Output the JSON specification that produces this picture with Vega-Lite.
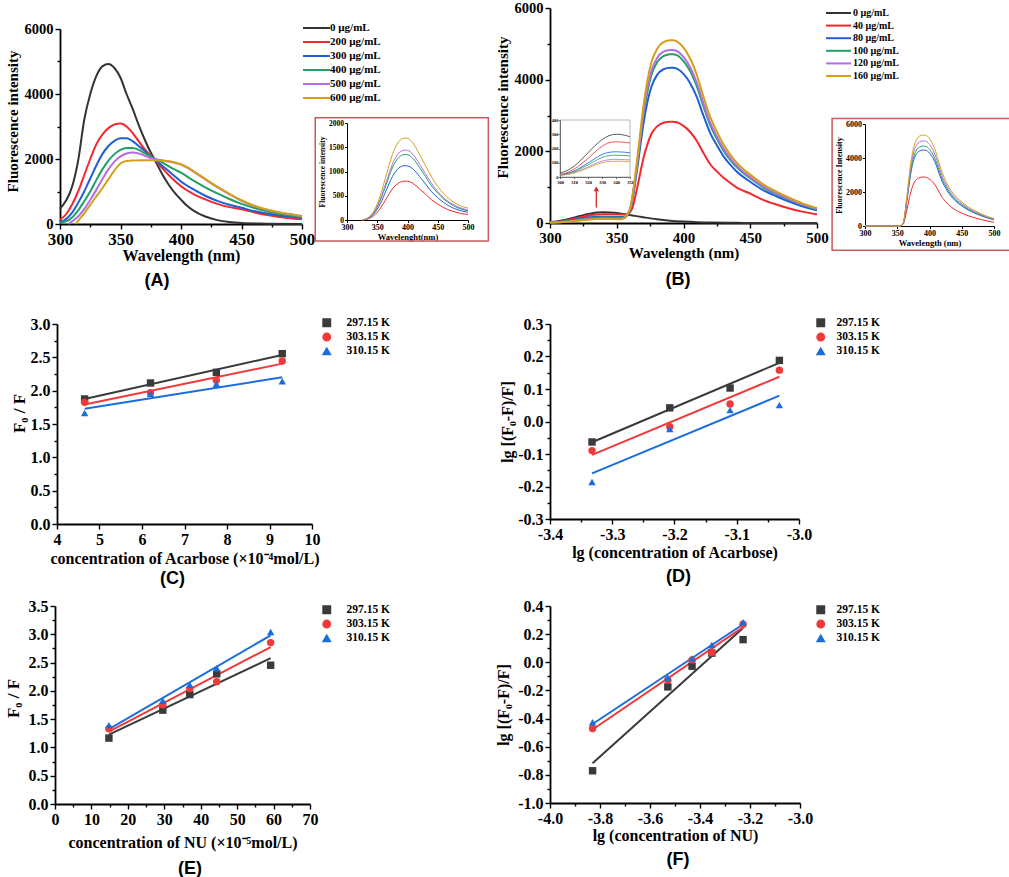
{
"$schema":"https://vega.github.io/schema/vega-lite/v6.json",
"padding":{"left":4,"top":0,"right":0,"bottom":0},
"config":{
 "view":{"stroke":null},
 "font":"Liberation Serif",
 "axis":{"domainColor":"#000","domainWidth":1.8,"tickColor":"#000","tickWidth":1.4,"tickSize":5,"labelColor":"#000","labelFont":"Liberation Serif","labelFontWeight":"bold","labelFontSize":16,"labelPadding":2,"labelFlush":false,"labelOverlap":false,"labelBound":false,"titleColor":"#000","titleFont":"Liberation Serif","titleFontWeight":"bold","titleFontSize":16,"grid":false},
 "legend":{"labelFont":"Liberation Serif","labelFontWeight":"bold","labelColor":"#000","padding":0},
 "title":{"font":"Liberation Sans","fontWeight":"bold","fontSize":18,"color":"#000"}
},
"datasets":{
"specA":[
{"w":300,"n":0,"i":470},{"w":305,"n":0,"i":720},{"w":310,"n":0,"i":1150},{"w":315,"n":0,"i":1950},{"w":320,"n":0,"i":3200},{"w":325,"n":0,"i":4000},{"w":330,"n":0,"i":4550},{"w":335,"n":0,"i":4850},{"w":340,"n":0,"i":4920},{"w":345,"n":0,"i":4800},{"w":350,"n":0,"i":4500},{"w":355,"n":0,"i":4000},{"w":360,"n":0,"i":3550},{"w":365,"n":0,"i":3050},{"w":370,"n":0,"i":2600},{"w":375,"n":0,"i":2200},{"w":378,"n":0,"i":2000},{"w":380,"n":0,"i":1850},{"w":385,"n":0,"i":1500},{"w":390,"n":0,"i":1200},{"w":395,"n":0,"i":950},{"w":400,"n":0,"i":750},{"w":405,"n":0,"i":560},{"w":410,"n":0,"i":420},{"w":420,"n":0,"i":230},{"w":430,"n":0,"i":120},{"w":440,"n":0,"i":60},{"w":450,"n":0,"i":30},{"w":470,"n":0,"i":10},{"w":500,"n":0,"i":0},
{"w":300,"n":200,"i":130},{"w":305,"n":200,"i":300},{"w":310,"n":200,"i":600},{"w":315,"n":200,"i":1000},{"w":320,"n":200,"i":1500},{"w":325,"n":200,"i":2000},{"w":330,"n":200,"i":2450},{"w":335,"n":200,"i":2750},{"w":340,"n":200,"i":2950},{"w":345,"n":200,"i":3060},{"w":350,"n":200,"i":3090},{"w":355,"n":200,"i":3000},{"w":360,"n":200,"i":2800},{"w":365,"n":200,"i":2550},{"w":370,"n":200,"i":2300},{"w":375,"n":200,"i":2100},{"w":380,"n":200,"i":1900},{"w":385,"n":200,"i":1700},{"w":390,"n":200,"i":1500},{"w":395,"n":200,"i":1320},{"w":400,"n":200,"i":1160},{"w":410,"n":200,"i":930},{"w":420,"n":200,"i":760},{"w":430,"n":200,"i":620},{"w":440,"n":200,"i":520},{"w":450,"n":200,"i":450},{"w":460,"n":200,"i":360},{"w":470,"n":200,"i":285},{"w":480,"n":200,"i":225},{"w":490,"n":200,"i":180},{"w":500,"n":200,"i":145},
{"w":300,"n":300,"i":60},{"w":305,"n":300,"i":150},{"w":310,"n":300,"i":350},{"w":315,"n":300,"i":650},{"w":320,"n":300,"i":1000},{"w":325,"n":300,"i":1400},{"w":330,"n":300,"i":1800},{"w":335,"n":300,"i":2150},{"w":340,"n":300,"i":2400},{"w":345,"n":300,"i":2560},{"w":350,"n":300,"i":2640},{"w":355,"n":300,"i":2640},{"w":360,"n":300,"i":2550},{"w":365,"n":300,"i":2400},{"w":370,"n":300,"i":2250},{"w":375,"n":300,"i":2080},{"w":380,"n":300,"i":1930},{"w":385,"n":300,"i":1780},{"w":390,"n":300,"i":1620},{"w":395,"n":300,"i":1460},{"w":400,"n":300,"i":1310},{"w":410,"n":300,"i":1070},{"w":420,"n":300,"i":870},{"w":430,"n":300,"i":710},{"w":440,"n":300,"i":590},{"w":450,"n":300,"i":500},{"w":460,"n":300,"i":400},{"w":470,"n":300,"i":330},{"w":480,"n":300,"i":270},{"w":490,"n":300,"i":225},{"w":500,"n":300,"i":190},
{"w":300,"n":400,"i":40},{"w":305,"n":400,"i":80},{"w":310,"n":400,"i":200},{"w":315,"n":400,"i":420},{"w":320,"n":400,"i":700},{"w":325,"n":400,"i":1000},{"w":330,"n":400,"i":1350},{"w":335,"n":400,"i":1680},{"w":340,"n":400,"i":1950},{"w":345,"n":400,"i":2150},{"w":350,"n":400,"i":2280},{"w":355,"n":400,"i":2340},{"w":360,"n":400,"i":2340},{"w":365,"n":400,"i":2280},{"w":370,"n":400,"i":2180},{"w":375,"n":400,"i":2080},{"w":380,"n":400,"i":1980},{"w":385,"n":400,"i":1880},{"w":390,"n":400,"i":1770},{"w":395,"n":400,"i":1670},{"w":400,"n":400,"i":1580},{"w":410,"n":400,"i":1340},{"w":420,"n":400,"i":1130},{"w":430,"n":400,"i":940},{"w":440,"n":400,"i":770},{"w":450,"n":400,"i":620},{"w":460,"n":400,"i":500},{"w":470,"n":400,"i":400},{"w":480,"n":400,"i":320},{"w":490,"n":400,"i":260},{"w":500,"n":400,"i":215},
{"w":307,"n":500,"i":0},{"w":310,"n":500,"i":80},{"w":315,"n":500,"i":230},{"w":320,"n":500,"i":460},{"w":325,"n":500,"i":740},{"w":330,"n":500,"i":1050},{"w":335,"n":500,"i":1380},{"w":340,"n":500,"i":1680},{"w":345,"n":500,"i":1920},{"w":350,"n":500,"i":2080},{"w":355,"n":500,"i":2170},{"w":360,"n":500,"i":2200},{"w":365,"n":500,"i":2170},{"w":370,"n":500,"i":2100},{"w":375,"n":500,"i":2030},{"w":380,"n":500,"i":1985},{"w":385,"n":500,"i":1955},{"w":390,"n":500,"i":1920},{"w":395,"n":500,"i":1880},{"w":400,"n":500,"i":1825},{"w":405,"n":500,"i":1735},{"w":410,"n":500,"i":1620},{"w":420,"n":500,"i":1375},{"w":430,"n":500,"i":1135},{"w":440,"n":500,"i":915},{"w":450,"n":500,"i":715},{"w":460,"n":500,"i":560},{"w":470,"n":500,"i":445},{"w":480,"n":500,"i":362},{"w":490,"n":500,"i":298},{"w":500,"n":500,"i":240},
{"w":313,"n":600,"i":0},{"w":315,"n":600,"i":100},{"w":320,"n":600,"i":330},{"w":325,"n":600,"i":590},{"w":330,"n":600,"i":850},{"w":335,"n":600,"i":1100},{"w":340,"n":600,"i":1380},{"w":345,"n":600,"i":1650},{"w":350,"n":600,"i":1860},{"w":355,"n":600,"i":1940},{"w":360,"n":600,"i":1955},{"w":370,"n":600,"i":1960},{"w":380,"n":600,"i":1960},{"w":385,"n":600,"i":1945},{"w":390,"n":600,"i":1930},{"w":395,"n":600,"i":1895},{"w":400,"n":600,"i":1840},{"w":405,"n":600,"i":1750},{"w":410,"n":600,"i":1635},{"w":420,"n":600,"i":1390},{"w":430,"n":600,"i":1150},{"w":440,"n":600,"i":930},{"w":450,"n":600,"i":730},{"w":460,"n":600,"i":570},{"w":470,"n":600,"i":455},{"w":480,"n":600,"i":370},{"w":490,"n":600,"i":305},{"w":500,"n":600,"i":246}
],
"insetA":[
{"w":325,"n":200,"i":0},{"w":335,"n":200,"i":25},{"w":345,"n":200,"i":95},{"w":355,"n":200,"i":240},{"w":365,"n":200,"i":440},{"w":375,"n":200,"i":640},{"w":385,"n":200,"i":760},{"w":395,"n":200,"i":800},{"w":400,"n":200,"i":800},{"w":410,"n":200,"i":745},{"w":420,"n":200,"i":640},{"w":430,"n":200,"i":530},{"w":440,"n":200,"i":415},{"w":450,"n":200,"i":330},{"w":460,"n":200,"i":255},{"w":470,"n":200,"i":200},{"w":480,"n":200,"i":160},{"w":490,"n":200,"i":130},{"w":500,"n":200,"i":115},
{"w":325,"n":300,"i":0},{"w":335,"n":300,"i":35},{"w":345,"n":300,"i":135},{"w":355,"n":300,"i":335},{"w":365,"n":300,"i":615},{"w":375,"n":300,"i":895},{"w":385,"n":300,"i":1065},{"w":395,"n":300,"i":1120},{"w":400,"n":300,"i":1115},{"w":410,"n":300,"i":1040},{"w":420,"n":300,"i":895},{"w":430,"n":300,"i":740},{"w":440,"n":300,"i":580},{"w":450,"n":300,"i":460},{"w":460,"n":300,"i":360},{"w":470,"n":300,"i":280},{"w":480,"n":300,"i":225},{"w":490,"n":300,"i":185},{"w":500,"n":300,"i":160},
{"w":325,"n":400,"i":0},{"w":335,"n":400,"i":40},{"w":345,"n":400,"i":160},{"w":355,"n":400,"i":405},{"w":365,"n":400,"i":740},{"w":375,"n":400,"i":1080},{"w":385,"n":400,"i":1280},{"w":395,"n":400,"i":1350},{"w":400,"n":400,"i":1345},{"w":410,"n":400,"i":1255},{"w":420,"n":400,"i":1080},{"w":430,"n":400,"i":890},{"w":440,"n":400,"i":700},{"w":450,"n":400,"i":555},{"w":460,"n":400,"i":430},{"w":470,"n":400,"i":340},{"w":480,"n":400,"i":270},{"w":490,"n":400,"i":220},{"w":500,"n":400,"i":190},
{"w":325,"n":500,"i":0},{"w":335,"n":500,"i":45},{"w":345,"n":500,"i":175},{"w":355,"n":500,"i":430},{"w":365,"n":500,"i":790},{"w":375,"n":500,"i":1150},{"w":385,"n":500,"i":1370},{"w":395,"n":500,"i":1440},{"w":400,"n":500,"i":1435},{"w":410,"n":500,"i":1340},{"w":420,"n":500,"i":1150},{"w":430,"n":500,"i":950},{"w":440,"n":500,"i":750},{"w":450,"n":500,"i":590},{"w":460,"n":500,"i":460},{"w":470,"n":500,"i":360},{"w":480,"n":500,"i":290},{"w":490,"n":500,"i":240},{"w":500,"n":500,"i":205},
{"w":325,"n":600,"i":0},{"w":335,"n":600,"i":50},{"w":345,"n":600,"i":200},{"w":355,"n":600,"i":505},{"w":365,"n":600,"i":930},{"w":375,"n":600,"i":1350},{"w":385,"n":600,"i":1605},{"w":395,"n":600,"i":1690},{"w":400,"n":600,"i":1685},{"w":410,"n":600,"i":1570},{"w":420,"n":600,"i":1350},{"w":430,"n":600,"i":1115},{"w":440,"n":600,"i":880},{"w":450,"n":600,"i":690},{"w":460,"n":600,"i":540},{"w":470,"n":600,"i":425},{"w":480,"n":600,"i":340},{"w":490,"n":600,"i":280},{"w":500,"n":600,"i":245}
],
"specB":[
{"w":300,"n":0,"i":28},{"w":305,"n":0,"i":45},{"w":310,"n":0,"i":75},{"w":315,"n":0,"i":120},{"w":320,"n":0,"i":170},{"w":325,"n":0,"i":220},{"w":330,"n":0,"i":262},{"w":335,"n":0,"i":290},{"w":340,"n":0,"i":300},{"w":345,"n":0,"i":296},{"w":350,"n":0,"i":282},{"w":355,"n":0,"i":255},{"w":360,"n":0,"i":220},{"w":370,"n":0,"i":160},{"w":380,"n":0,"i":105},{"w":390,"n":0,"i":65},{"w":400,"n":0,"i":40},{"w":410,"n":0,"i":22},{"w":420,"n":0,"i":12},{"w":440,"n":0,"i":5},{"w":460,"n":0,"i":0},{"w":500,"n":0,"i":0},
{"w":300,"n":40,"i":18},{"w":305,"n":40,"i":30},{"w":310,"n":40,"i":55},{"w":315,"n":40,"i":90},{"w":320,"n":40,"i":130},{"w":325,"n":40,"i":175},{"w":330,"n":40,"i":215},{"w":335,"n":40,"i":240},{"w":340,"n":40,"i":247},{"w":345,"n":40,"i":245},{"w":350,"n":40,"i":238},{"w":353,"n":40,"i":235},{"w":356,"n":40,"i":240},{"w":358,"n":40,"i":250},{"w":360,"n":40,"i":300},{"w":362,"n":40,"i":450},{"w":364,"n":40,"i":760},{"w":366,"n":40,"i":1100},{"w":368,"n":40,"i":1470},{"w":370,"n":40,"i":1810},{"w":373,"n":40,"i":2200},{"w":376,"n":40,"i":2490},{"w":380,"n":40,"i":2690},{"w":385,"n":40,"i":2800},{"w":390,"n":40,"i":2827},{"w":392,"n":40,"i":2827},{"w":395,"n":40,"i":2810},{"w":400,"n":40,"i":2710},{"w":405,"n":40,"i":2540},{"w":410,"n":40,"i":2290},{"w":415,"n":40,"i":1950},{"w":420,"n":40,"i":1640},{"w":425,"n":40,"i":1440},{"w":430,"n":40,"i":1260},{"w":435,"n":40,"i":1120},{"w":440,"n":40,"i":990},{"w":445,"n":40,"i":900},{"w":450,"n":40,"i":820},{"w":460,"n":40,"i":640},{"w":470,"n":40,"i":510},{"w":480,"n":40,"i":400},{"w":490,"n":40,"i":310},{"w":500,"n":40,"i":240},
{"w":300,"n":80,"i":15},{"w":305,"n":80,"i":25},{"w":310,"n":80,"i":42},{"w":315,"n":80,"i":68},{"w":320,"n":80,"i":98},{"w":325,"n":80,"i":130},{"w":330,"n":80,"i":158},{"w":335,"n":80,"i":173},{"w":340,"n":80,"i":177},{"w":345,"n":80,"i":175},{"w":350,"n":80,"i":170},{"w":353,"n":80,"i":168},{"w":356,"n":80,"i":175},{"w":358,"n":80,"i":220},{"w":360,"n":80,"i":350},{"w":362,"n":80,"i":690},{"w":364,"n":80,"i":1170},{"w":366,"n":80,"i":1690},{"w":368,"n":80,"i":2250},{"w":370,"n":80,"i":2770},{"w":373,"n":80,"i":3380},{"w":376,"n":80,"i":3810},{"w":380,"n":80,"i":4120},{"w":385,"n":80,"i":4290},{"w":390,"n":80,"i":4334},{"w":392,"n":80,"i":4334},{"w":395,"n":80,"i":4310},{"w":400,"n":80,"i":4160},{"w":405,"n":80,"i":3900},{"w":410,"n":80,"i":3510},{"w":415,"n":80,"i":2990},{"w":420,"n":80,"i":2510},{"w":425,"n":80,"i":2170},{"w":430,"n":80,"i":1860},{"w":435,"n":80,"i":1630},{"w":440,"n":80,"i":1430},{"w":445,"n":80,"i":1280},{"w":450,"n":80,"i":1150},{"w":460,"n":80,"i":910},{"w":470,"n":80,"i":740},{"w":480,"n":80,"i":585},{"w":490,"n":80,"i":455},{"w":500,"n":80,"i":355},
{"w":300,"n":100,"i":14},{"w":305,"n":100,"i":22},{"w":310,"n":100,"i":37},{"w":315,"n":100,"i":60},{"w":320,"n":100,"i":85},{"w":325,"n":100,"i":113},{"w":330,"n":100,"i":137},{"w":335,"n":100,"i":150},{"w":340,"n":100,"i":153},{"w":345,"n":100,"i":151},{"w":350,"n":100,"i":148},{"w":353,"n":100,"i":146},{"w":356,"n":100,"i":150},{"w":358,"n":100,"i":235},{"w":360,"n":100,"i":375},{"w":362,"n":100,"i":750},{"w":364,"n":100,"i":1270},{"w":366,"n":100,"i":1840},{"w":368,"n":100,"i":2450},{"w":370,"n":100,"i":3010},{"w":373,"n":100,"i":3670},{"w":376,"n":100,"i":4140},{"w":380,"n":100,"i":4470},{"w":385,"n":100,"i":4660},{"w":390,"n":100,"i":4708},{"w":392,"n":100,"i":4708},{"w":395,"n":100,"i":4685},{"w":400,"n":100,"i":4520},{"w":405,"n":100,"i":4240},{"w":410,"n":100,"i":3810},{"w":415,"n":100,"i":3250},{"w":420,"n":100,"i":2730},{"w":425,"n":100,"i":2350},{"w":430,"n":100,"i":2020},{"w":435,"n":100,"i":1765},{"w":440,"n":100,"i":1555},{"w":445,"n":100,"i":1390},{"w":450,"n":100,"i":1250},{"w":460,"n":100,"i":990},{"w":470,"n":100,"i":800},{"w":480,"n":100,"i":635},{"w":490,"n":100,"i":495},{"w":500,"n":100,"i":385},
{"w":300,"n":120,"i":12},{"w":305,"n":120,"i":19},{"w":310,"n":120,"i":31},{"w":315,"n":120,"i":49},{"w":320,"n":120,"i":70},{"w":325,"n":120,"i":93},{"w":330,"n":120,"i":111},{"w":335,"n":120,"i":121},{"w":340,"n":120,"i":124},{"w":345,"n":120,"i":122},{"w":350,"n":120,"i":120},{"w":353,"n":120,"i":119},{"w":356,"n":120,"i":145},{"w":358,"n":120,"i":240},{"w":360,"n":120,"i":385},{"w":362,"n":120,"i":770},{"w":364,"n":120,"i":1300},{"w":366,"n":120,"i":1880},{"w":368,"n":120,"i":2510},{"w":370,"n":120,"i":3090},{"w":373,"n":120,"i":3770},{"w":376,"n":120,"i":4250},{"w":380,"n":120,"i":4590},{"w":385,"n":120,"i":4780},{"w":390,"n":120,"i":4828},{"w":392,"n":120,"i":4828},{"w":395,"n":120,"i":4800},{"w":400,"n":120,"i":4635},{"w":405,"n":120,"i":4345},{"w":410,"n":120,"i":3910},{"w":415,"n":120,"i":3330},{"w":420,"n":120,"i":2800},{"w":425,"n":120,"i":2415},{"w":430,"n":120,"i":2075},{"w":435,"n":120,"i":1810},{"w":440,"n":120,"i":1595},{"w":445,"n":120,"i":1425},{"w":450,"n":120,"i":1280},{"w":460,"n":120,"i":1015},{"w":470,"n":120,"i":820},{"w":480,"n":120,"i":650},{"w":490,"n":120,"i":505},{"w":500,"n":120,"i":395},
{"w":300,"n":160,"i":11},{"w":305,"n":160,"i":17},{"w":310,"n":160,"i":28},{"w":315,"n":160,"i":44},{"w":320,"n":160,"i":63},{"w":325,"n":160,"i":84},{"w":330,"n":160,"i":100},{"w":335,"n":160,"i":109},{"w":340,"n":160,"i":111},{"w":345,"n":160,"i":110},{"w":350,"n":160,"i":108},{"w":353,"n":160,"i":107},{"w":356,"n":160,"i":155},{"w":358,"n":160,"i":255},{"w":360,"n":160,"i":410},{"w":362,"n":160,"i":815},{"w":364,"n":160,"i":1375},{"w":366,"n":160,"i":1990},{"w":368,"n":160,"i":2650},{"w":370,"n":160,"i":3260},{"w":373,"n":160,"i":3980},{"w":376,"n":160,"i":4490},{"w":380,"n":160,"i":4845},{"w":385,"n":160,"i":5050},{"w":390,"n":160,"i":5099},{"w":392,"n":160,"i":5099},{"w":395,"n":160,"i":5070},{"w":400,"n":160,"i":4895},{"w":405,"n":160,"i":4590},{"w":410,"n":160,"i":4130},{"w":415,"n":160,"i":3520},{"w":420,"n":160,"i":2960},{"w":425,"n":160,"i":2550},{"w":430,"n":160,"i":2190},{"w":435,"n":160,"i":1910},{"w":440,"n":160,"i":1680},{"w":445,"n":160,"i":1500},{"w":450,"n":160,"i":1350},{"w":460,"n":160,"i":1070},{"w":470,"n":160,"i":870},{"w":480,"n":160,"i":690},{"w":490,"n":160,"i":535},{"w":500,"n":160,"i":420}
],
"zoomB":[
{"w":300,"n":0,"i":28},{"w":305,"n":0,"i":45},{"w":310,"n":0,"i":75},{"w":315,"n":0,"i":120},{"w":320,"n":0,"i":170},{"w":325,"n":0,"i":220},{"w":330,"n":0,"i":262},{"w":335,"n":0,"i":290},{"w":340,"n":0,"i":300},{"w":345,"n":0,"i":296},{"w":350,"n":0,"i":282},
{"w":300,"n":40,"i":18},{"w":305,"n":40,"i":30},{"w":310,"n":40,"i":55},{"w":315,"n":40,"i":90},{"w":320,"n":40,"i":130},{"w":325,"n":40,"i":175},{"w":330,"n":40,"i":215},{"w":335,"n":40,"i":240},{"w":340,"n":40,"i":247},{"w":345,"n":40,"i":245},{"w":350,"n":40,"i":238},
{"w":300,"n":80,"i":15},{"w":305,"n":80,"i":25},{"w":310,"n":80,"i":42},{"w":315,"n":80,"i":68},{"w":320,"n":80,"i":98},{"w":325,"n":80,"i":130},{"w":330,"n":80,"i":158},{"w":335,"n":80,"i":173},{"w":340,"n":80,"i":177},{"w":345,"n":80,"i":175},{"w":350,"n":80,"i":170},
{"w":300,"n":100,"i":14},{"w":305,"n":100,"i":22},{"w":310,"n":100,"i":37},{"w":315,"n":100,"i":60},{"w":320,"n":100,"i":85},{"w":325,"n":100,"i":113},{"w":330,"n":100,"i":137},{"w":335,"n":100,"i":150},{"w":340,"n":100,"i":153},{"w":345,"n":100,"i":151},{"w":350,"n":100,"i":148},
{"w":300,"n":120,"i":12},{"w":305,"n":120,"i":19},{"w":310,"n":120,"i":31},{"w":315,"n":120,"i":49},{"w":320,"n":120,"i":70},{"w":325,"n":120,"i":93},{"w":330,"n":120,"i":111},{"w":335,"n":120,"i":121},{"w":340,"n":120,"i":124},{"w":345,"n":120,"i":122},{"w":350,"n":120,"i":120},
{"w":300,"n":160,"i":11},{"w":305,"n":160,"i":17},{"w":310,"n":160,"i":28},{"w":315,"n":160,"i":44},{"w":320,"n":160,"i":63},{"w":325,"n":160,"i":84},{"w":330,"n":160,"i":100},{"w":335,"n":160,"i":109},{"w":340,"n":160,"i":111},{"w":345,"n":160,"i":110},{"w":350,"n":160,"i":108}
],
"insetB":[
{"w":300,"n":40,"i":0},{"w":355,"n":40,"i":0},{"w":358,"n":40,"i":60},{"w":360,"n":40,"i":150},{"w":362,"n":40,"i":420},{"w":364,"n":40,"i":780},{"w":366,"n":40,"i":1120},{"w":368,"n":40,"i":1500},{"w":370,"n":40,"i":1840},{"w":373,"n":40,"i":2250},{"w":376,"n":40,"i":2530},{"w":380,"n":40,"i":2740},{"w":385,"n":40,"i":2850},{"w":390,"n":40,"i":2880},{"w":392,"n":40,"i":2880},{"w":395,"n":40,"i":2860},{"w":400,"n":40,"i":2760},{"w":405,"n":40,"i":2590},{"w":410,"n":40,"i":2330},{"w":415,"n":40,"i":1990},{"w":420,"n":40,"i":1670},{"w":425,"n":40,"i":1440},{"w":430,"n":40,"i":1240},{"w":435,"n":40,"i":1080},{"w":440,"n":40,"i":950},{"w":445,"n":40,"i":850},{"w":450,"n":40,"i":760},{"w":460,"n":40,"i":600},{"w":470,"n":40,"i":480},{"w":480,"n":40,"i":380},{"w":490,"n":40,"i":290},{"w":500,"n":40,"i":220},
{"w":300,"n":80,"i":0},{"w":355,"n":80,"i":0},{"w":358,"n":80,"i":90},{"w":360,"n":80,"i":230},{"w":362,"n":80,"i":650},{"w":364,"n":80,"i":1210},{"w":366,"n":80,"i":1740},{"w":368,"n":80,"i":2320},{"w":370,"n":80,"i":2860},{"w":373,"n":80,"i":3490},{"w":376,"n":80,"i":3930},{"w":380,"n":80,"i":4250},{"w":385,"n":80,"i":4420},{"w":390,"n":80,"i":4470},{"w":392,"n":80,"i":4470},{"w":395,"n":80,"i":4450},{"w":400,"n":80,"i":4290},{"w":405,"n":80,"i":4020},{"w":410,"n":80,"i":3620},{"w":415,"n":80,"i":3080},{"w":420,"n":80,"i":2590},{"w":425,"n":80,"i":2240},{"w":430,"n":80,"i":1920},{"w":435,"n":80,"i":1680},{"w":440,"n":80,"i":1480},{"w":445,"n":80,"i":1320},{"w":450,"n":80,"i":1185},{"w":460,"n":80,"i":940},{"w":470,"n":80,"i":760},{"w":480,"n":80,"i":600},{"w":490,"n":80,"i":470},{"w":500,"n":80,"i":365},
{"w":300,"n":100,"i":0},{"w":355,"n":100,"i":0},{"w":358,"n":100,"i":95},{"w":360,"n":100,"i":240},{"w":362,"n":100,"i":685},{"w":364,"n":100,"i":1270},{"w":366,"n":100,"i":1830},{"w":368,"n":100,"i":2440},{"w":370,"n":100,"i":3010},{"w":373,"n":100,"i":3670},{"w":376,"n":100,"i":4130},{"w":380,"n":100,"i":4470},{"w":385,"n":100,"i":4650},{"w":390,"n":100,"i":4700},{"w":392,"n":100,"i":4700},{"w":395,"n":100,"i":4680},{"w":400,"n":100,"i":4510},{"w":405,"n":100,"i":4230},{"w":410,"n":100,"i":3810},{"w":415,"n":100,"i":3240},{"w":420,"n":100,"i":2720},{"w":425,"n":100,"i":2355},{"w":430,"n":100,"i":2020},{"w":435,"n":100,"i":1765},{"w":440,"n":100,"i":1555},{"w":445,"n":100,"i":1390},{"w":450,"n":100,"i":1245},{"w":460,"n":100,"i":990},{"w":470,"n":100,"i":800},{"w":480,"n":100,"i":630},{"w":490,"n":100,"i":495},{"w":500,"n":100,"i":385},
{"w":300,"n":120,"i":0},{"w":355,"n":120,"i":0},{"w":358,"n":120,"i":100},{"w":360,"n":120,"i":255},{"w":362,"n":120,"i":730},{"w":364,"n":120,"i":1350},{"w":366,"n":120,"i":1950},{"w":368,"n":120,"i":2600},{"w":370,"n":120,"i":3200},{"w":373,"n":120,"i":3900},{"w":376,"n":120,"i":4400},{"w":380,"n":120,"i":4750},{"w":385,"n":120,"i":4950},{"w":390,"n":120,"i":5000},{"w":392,"n":120,"i":5000},{"w":395,"n":120,"i":4975},{"w":400,"n":120,"i":4800},{"w":405,"n":120,"i":4500},{"w":410,"n":120,"i":4050},{"w":415,"n":120,"i":3450},{"w":420,"n":120,"i":2900},{"w":425,"n":120,"i":2500},{"w":430,"n":120,"i":2150},{"w":435,"n":120,"i":1875},{"w":440,"n":120,"i":1650},{"w":445,"n":120,"i":1475},{"w":450,"n":120,"i":1325},{"w":460,"n":120,"i":1050},{"w":470,"n":120,"i":850},{"w":480,"n":120,"i":675},{"w":490,"n":120,"i":525},{"w":500,"n":120,"i":410},
{"w":300,"n":160,"i":0},{"w":355,"n":160,"i":0},{"w":358,"n":160,"i":105},{"w":360,"n":160,"i":270},{"w":362,"n":160,"i":780},{"w":364,"n":160,"i":1445},{"w":366,"n":160,"i":2085},{"w":368,"n":160,"i":2780},{"w":370,"n":160,"i":3425},{"w":373,"n":160,"i":4170},{"w":376,"n":160,"i":4710},{"w":380,"n":160,"i":5080},{"w":385,"n":160,"i":5300},{"w":390,"n":160,"i":5350},{"w":392,"n":160,"i":5350},{"w":395,"n":160,"i":5325},{"w":400,"n":160,"i":5135},{"w":405,"n":160,"i":4815},{"w":410,"n":160,"i":4335},{"w":415,"n":160,"i":3690},{"w":420,"n":160,"i":3105},{"w":425,"n":160,"i":2675},{"w":430,"n":160,"i":2300},{"w":435,"n":160,"i":2005},{"w":440,"n":160,"i":1765},{"w":445,"n":160,"i":1580},{"w":450,"n":160,"i":1420},{"w":460,"n":160,"i":1125},{"w":470,"n":160,"i":910},{"w":480,"n":160,"i":720},{"w":490,"n":160,"i":560},{"w":500,"n":160,"i":440}
],
"dC":[
{"x":4.65,"t":"297.15 K","y":1.875},{"x":6.2,"t":"297.15 K","y":2.115},{"x":7.75,"t":"297.15 K","y":2.275},{"x":9.3,"t":"297.15 K","y":2.555},
{"x":4.65,"t":"303.15 K","y":1.825},{"x":6.2,"t":"303.15 K","y":1.97},{"x":7.75,"t":"303.15 K","y":2.155},{"x":9.3,"t":"303.15 K","y":2.445},
{"x":4.65,"t":"310.15 K","y":1.665},{"x":6.2,"t":"310.15 K","y":1.955},{"x":7.75,"t":"310.15 K","y":2.1},{"x":9.3,"t":"310.15 K","y":2.14}
],
"dD":[
{"x":-3.3325,"t":"297.15 K","y":-0.063},{"x":-3.2076,"t":"297.15 K","y":0.042},{"x":-3.1107,"t":"297.15 K","y":0.103},{"x":-3.0315,"t":"297.15 K","y":0.188},
{"x":-3.3325,"t":"303.15 K","y":-0.0895},{"x":-3.2076,"t":"303.15 K","y":-0.016},{"x":-3.1107,"t":"303.15 K","y":0.054},{"x":-3.0315,"t":"303.15 K","y":0.158},
{"x":-3.3325,"t":"310.15 K","y":-0.186},{"x":-3.2076,"t":"310.15 K","y":-0.0235},{"x":-3.1107,"t":"310.15 K","y":0.035},{"x":-3.0315,"t":"310.15 K","y":0.0505}
],
"dE":[
{"x":14.8,"t":"297.15 K","y":1.165},{"x":29.6,"t":"297.15 K","y":1.659},{"x":37.0,"t":"297.15 K","y":1.935},{"x":44.4,"t":"297.15 K","y":2.3},{"x":59.2,"t":"297.15 K","y":2.453},
{"x":14.8,"t":"303.15 K","y":1.33},{"x":29.6,"t":"303.15 K","y":1.753},{"x":37.0,"t":"303.15 K","y":2.04},{"x":44.4,"t":"303.15 K","y":2.16},{"x":59.2,"t":"303.15 K","y":2.853},
{"x":14.8,"t":"310.15 K","y":1.394},{"x":29.6,"t":"310.15 K","y":1.824},{"x":37.0,"t":"310.15 K","y":2.106},{"x":44.4,"t":"310.15 K","y":2.4},{"x":59.2,"t":"310.15 K","y":3.041}
],
"dF":[
{"x":-3.8297,"t":"297.15 K","y":-0.771},{"x":-3.5287,"t":"297.15 K","y":-0.175},{"x":-3.4318,"t":"297.15 K","y":-0.028},{"x":-3.3526,"t":"297.15 K","y":0.065},{"x":-3.2277,"t":"297.15 K","y":0.161},
{"x":-3.8297,"t":"303.15 K","y":-0.4706},{"x":-3.5287,"t":"303.15 K","y":-0.125},{"x":-3.4318,"t":"303.15 K","y":0.017},{"x":-3.3526,"t":"303.15 K","y":0.0686},{"x":-3.2277,"t":"303.15 K","y":0.27},
{"x":-3.8297,"t":"310.15 K","y":-0.4256},{"x":-3.5287,"t":"310.15 K","y":-0.109},{"x":-3.4318,"t":"310.15 K","y":0.028},{"x":-3.3526,"t":"310.15 K","y":0.123},{"x":-3.2277,"t":"310.15 K","y":0.284}
]
},
"columns":2,
"spacing":{"row":82,"column":238},
"bounds":"flush",
"resolve":{"scale":{"color":"independent","shape":"independent"}},
"concat":[
{
 "width":247,"height":234,
 "title":{"text":"(A)","orient":"bottom","anchor":"middle","frame":"group","dx":-21.5,"offset":9},
 "resolve":{"scale":{"x":"independent","y":"independent"}},
 "layer":[
  {"layer":[{
   "data":{"name":"specA"},
   "mark":{"type":"line","strokeWidth":2,"interpolate":"monotone"},
   "encoding":{
    "x":{"field":"w","type":"quantitative","scale":{"domain":[300,500],"range":[5,247],"nice":false,"zero":false},
     "axis":{"orient":"bottom","offset":-18,"title":"Wavelength (nm)","format":"d","tickCount":60,"labelOverlap":false,"values":[300,325,350,375,400,425,450,475,500],"labelExpr":"datum.value % 50 ? '' : datum.label","tickSize":{"condition":{"test":"datum.value % 50 != 0","value":3},"value":5},"labelFontSize":17,"titleFontSize":16,"titlePadding":0}},
    "y":{"field":"i","type":"quantitative","scale":{"domain":[0,6000],"range":[216,21],"nice":false,"zero":false},
     "axis":{"orient":"left","offset":-5,"title":"Fluorescence intensity","titleY":113,"format":"d","tickCount":60,"labelOverlap":false,"values":[0,1000,2000,3000,4000,5000,6000],"labelExpr":"datum.value % 2000 ? '' : datum.label","tickSize":{"condition":{"test":"datum.value % 2000 != 0","value":3},"value":5},"labelFontSize":14.5,"titleFontSize":15,"titlePadding":4}},
    "color":{"field":"n","type":"ordinal","scale":{"domain":[0,200,300,400,500,600],"range":["#333333","#f5282d","#1f5fd6","#20a064","#b36de6","#d4a017"]},
     "legend":{"title":null,"orient":"none","legendX":247,"legendY":14,"symbolType":"M-1,0H4.4","symbolSize":100,"symbolStrokeWidth":2,"labelExpr":"datum.label + ' µg/mL'","labelFontSize":11,"labelOffset":16,"rowPadding":3}}
   }
  }]},
  {"layer":[
   {"data":{"name":"insetA"},
    "mark":{"type":"line","strokeWidth":1,"interpolate":"monotone"},
    "encoding":{
     "x":{"field":"w","type":"quantitative","scale":{"domain":[300,500],"range":[292,413],"nice":false,"zero":false},
      "axis":{"orient":"bottom","offset":-22,"title":"Wavelenght(nm)","format":"d","tickCount":60,"labelOverlap":false,"values":[300,350,400,450,500],"labelFontSize":8,"titleFontSize":8.5,"tickSize":2.5,"domainWidth":1,"tickWidth":1,"labelPadding":1,"titlePadding":1}},
     "y":{"field":"i","type":"quantitative","scale":{"domain":[0,2000],"range":[212,115],"nice":false,"zero":false},
      "axis":{"orient":"left","offset":-292,"title":"Fluorescence intensity","format":"d","tickCount":60,"labelOverlap":false,"values":[0,500,1000,1500,2000],"labelFontSize":7.5,"titleFontSize":7.5,"tickSize":2.5,"domainWidth":1,"tickWidth":1,"labelPadding":1,"titlePadding":2}},
     "color":{"field":"n","type":"ordinal"}
    }},
   {"data":{"values":[{}]},
    "mark":{"type":"rect","filled":false,"color":"#c95a5c","strokeWidth":1.5},
    "encoding":{"x":{"datum":247.5,"type":"quantitative"},"x2":{"datum":533.6},"y":{"datum":-433,"type":"quantitative"},"y2":{"datum":2109}}}
  ]}
 ]
},
{
 "width":267,"height":234,
 "title":{"text":"(B)","orient":"bottom","anchor":"middle","frame":"group","dx":-5.5,"offset":11},
 "resolve":{"scale":{"x":"independent","y":"independent"}},
 "layer":[
  {"layer":[
   {"data":{"name":"specB"},
    "mark":{"type":"line","strokeWidth":2,"interpolate":"monotone"},
    "encoding":{
     "x":{"field":"w","type":"quantitative","scale":{"domain":[300,500],"range":[0,267],"nice":false,"zero":false},
      "axis":{"orient":"bottom","offset":-19,"title":"Wavelength (nm)","format":"d","tickCount":60,"labelOverlap":false,"values":[300,325,350,375,400,425,450,475,500],"labelExpr":"datum.value % 50 ? '' : datum.label","tickSize":{"condition":{"test":"datum.value % 50 != 0","value":3},"value":5},"labelFontSize":15,"titleFontSize":15,"titlePadding":0}},
     "y":{"field":"i","type":"quantitative","scale":{"domain":[0,6000],"range":[215,0],"nice":false,"zero":false},
      "axis":{"orient":"left","title":"Fluorescence intensity","titleY":99,"format":"d","tickCount":60,"labelOverlap":false,"values":[0,1000,2000,3000,4000,5000,6000],"labelExpr":"datum.value % 2000 ? '' : datum.label","tickSize":{"condition":{"test":"datum.value % 2000 != 0","value":3},"value":5},"labelFontSize":14.5,"titleFontSize":15,"titlePadding":4}},
     "color":{"field":"n","type":"ordinal","scale":{"domain":[0,40,80,100,120,160],"range":["#333333","#f5282d","#1f5fd6","#20a064","#b36de6","#d4a017"]},
      "legend":{"title":null,"orient":"none","legendX":275,"legendY":-1,"symbolType":"M-1,0H4","symbolSize":100,"symbolStrokeWidth":2,"labelExpr":"datum.label + ' µg/mL'","labelFontSize":10,"labelOffset":16,"rowPadding":1.6}}
    }},
   {"data":{"values":[{}]},
    "mark":{"type":"rule","color":"#d42a2a","strokeWidth":1.3},
    "encoding":{"x":{"datum":334.7,"type":"quantitative"},"y":{"datum":430,"type":"quantitative"},"y2":{"datum":920}}},
   {"data":{"values":[{}]},
    "mark":{"type":"point","shape":"triangle-up","filled":true,"size":30,"color":"#d42a2a","opacity":1},
    "encoding":{"x":{"datum":334.7,"type":"quantitative"},"y":{"datum":950,"type":"quantitative"}}}
  ]},
  {"layer":[
   {"data":{"name":"zoomB"},
    "mark":{"type":"line","strokeWidth":0.8,"interpolate":"monotone"},
    "encoding":{
     "x":{"field":"w","type":"quantitative","scale":{"domain":[300,350],"range":[10,80],"nice":false,"zero":false},
      "axis":{"orient":"bottom","offset":-65,"title":null,"format":"d","tickCount":60,"labelOverlap":false,"values":[300,310,320,330,340,350],"labelFontSize":4.5,"tickSize":1.5,"domainWidth":0.6,"tickWidth":0.6,"labelPadding":0.5}},
     "y":{"field":"i","type":"quantitative","scale":{"domain":[0,400],"range":[169,112],"nice":false,"zero":false},
      "axis":{"orient":"left","offset":-10,"title":null,"format":"d","tickCount":60,"labelOverlap":false,"values":[0,100,200,300,400],"labelFontSize":4.5,"tickSize":1.5,"domainWidth":0.6,"tickWidth":0.6,"labelPadding":0.5}},
     "color":{"field":"n","type":"ordinal"}
    }},
   {"data":{"values":[{}]},
    "mark":{"type":"rect","filled":false,"color":"#8a8a8a","strokeWidth":0.6},
    "encoding":{"x":{"datum":300,"type":"quantitative"},"x2":{"datum":350},"y":{"datum":0,"type":"quantitative"},"y2":{"datum":400}}}
  ]},
  {"layer":[
   {"data":{"name":"insetB"},
    "mark":{"type":"line","strokeWidth":1,"interpolate":"monotone"},
    "encoding":{
     "x":{"field":"w","type":"quantitative","scale":{"domain":[300,500],"range":[315,444],"nice":false,"zero":false},
      "axis":{"orient":"bottom","offset":-16,"title":"Wavelength (nm)","format":"d","tickCount":60,"labelOverlap":false,"values":[300,350,400,450,500],"labelFontSize":8,"titleFontSize":8.5,"tickSize":2.5,"domainWidth":1,"tickWidth":1,"labelPadding":1,"titlePadding":1}},
     "y":{"field":"i","type":"quantitative","scale":{"domain":[0,6000],"range":[218,116],"nice":false,"zero":false},
      "axis":{"orient":"left","offset":-315,"title":"Fluorescence Intensity","format":"d","tickCount":60,"labelOverlap":false,"values":[0,2000,4000,6000],"labelFontSize":8,"titleFontSize":8,"tickSize":2.5,"domainWidth":1,"tickWidth":1,"labelPadding":1,"titlePadding":2}},
     "color":{"field":"n","type":"ordinal"}
    }},
   {"data":{"values":[{}]},
    "mark":{"type":"rect","filled":false,"color":"#c95a5c","strokeWidth":1.5},
    "encoding":{"x":{"datum":249,"type":"quantitative"},"x2":{"datum":525},"y":{"datum":-1425,"type":"quantitative"},"y2":{"datum":6317}}}
  ]}
 ]
},
{
 "width":257,"height":200,
 "data":{"name":"dC"},
 "title":{"text":"(C)","orient":"bottom","anchor":"middle","frame":"group","dx":-11,"offset":4},
 "layer":[
  {"transform":[{"regression":"y","on":"x","groupby":["t"]}],
   "mark":{"type":"line","strokeWidth":2},
   "encoding":{
    "x":{"field":"x","type":"quantitative","scale":{"domain":[4,10],"range":[2,257],"nice":false,"zero":false},
     "axis":{"title":"concentration of Acarbose (×10⁻⁴mol/L)","format":"d","tickCount":60,"labelOverlap":false,"values":[4,4.5,5,5.5,6,6.5,7,7.5,8,8.5,9,9.5,10],"labelExpr":"datum.value % 1 ? '' : datum.label","tickSize":{"condition":{"test":"datum.value % 1 != 0","value":3},"value":5},"titlePadding":3}},
    "y":{"field":"y","type":"quantitative","scale":{"domain":[0,3],"nice":false,"zero":false},
     "axis":{"offset":-2,"title":"F₀ / F","titleY":89,"titleFontSize":17,"format":".1f","tickCount":60,"labelOverlap":false,"values":[0,0.25,0.5,0.75,1,1.25,1.5,1.75,2,2.25,2.5,2.75,3],"labelExpr":"(datum.value*4) % 2 ? '' : datum.label","tickSize":{"condition":{"test":"(datum.value*4) % 2 != 0","value":3},"value":5},"titlePadding":2}},
    "color":{"field":"t","type":"nominal","scale":{"domain":["297.15 K","303.15 K","310.15 K"],"range":["#3a3a3a","#f03a3a","#1a6edc"]}}
   }},
  {"mark":{"type":"point","filled":true,"size":55,"opacity":1},
   "encoding":{
    "x":{"field":"x","type":"quantitative"},
    "y":{"field":"y","type":"quantitative"},
    "color":{"field":"t","type":"nominal","legend":{"title":null,"orient":"none","legendX":266,"legendY":-7,"labelFontSize":11.5,"symbolSize":55,"labelOffset":14,"rowPadding":0.3}},
    "shape":{"field":"t","type":"nominal","scale":{"domain":["297.15 K","303.15 K","310.15 K"],"range":["square","circle","triangle-up"]},"legend":{"title":null,"orient":"none","legendX":266,"legendY":-7,"labelFontSize":11.5,"symbolSize":55,"labelOffset":14,"rowPadding":0.3}}
   }}
 ]
},
{
 "width":249,"height":200,
 "data":{"name":"dD"},
 "title":{"text":"(D)","orient":"bottom","anchor":"middle","frame":"group","dx":4,"offset":8},
 "layer":[
  {"transform":[{"regression":"y","on":"x","groupby":["t"]}],
   "mark":{"type":"line","strokeWidth":2},
   "encoding":{
    "x":{"field":"x","type":"quantitative","scale":{"domain":[-3.4,-3.0],"nice":false,"zero":false},
     "axis":{"offset":-5,"title":"lg (concentration of Acarbose)","format":".1f","tickCount":60,"labelOverlap":false,"values":[-3.4,-3.35,-3.3,-3.25,-3.2,-3.15,-3.1,-3.05,-3.0],"labelExpr":"round(datum.value*100) % 10 ? '' : replace(datum.label, '−', '-')","tickSize":{"condition":{"test":"round(datum.value*100) % 10 != 0","value":3},"value":5},"titlePadding":2}},
    "y":{"field":"y","type":"quantitative","scale":{"domain":[-0.3,0.3],"range":[195,0],"nice":false,"zero":false},
     "axis":{"title":"lg [(F₀-F)/F]","format":".1f","tickCount":60,"labelOverlap":false,"values":[-0.3,-0.25,-0.2,-0.15,-0.1,-0.05,0,0.05,0.1,0.15,0.2,0.25,0.3],"labelExpr":"round(datum.value*100) % 10 ? '' : replace(datum.label, '−', '-')","tickSize":{"condition":{"test":"round(datum.value*100) % 10 != 0","value":3},"value":5},"titlePadding":2}},
    "color":{"field":"t","type":"nominal","scale":{"domain":["297.15 K","303.15 K","310.15 K"],"range":["#3a3a3a","#f03a3a","#1a6edc"]}}
   }},
  {"mark":{"type":"point","filled":true,"size":55,"opacity":1},
   "encoding":{
    "x":{"field":"x","type":"quantitative"},
    "y":{"field":"y","type":"quantitative"},
    "color":{"field":"t","type":"nominal","legend":{"title":null,"orient":"none","legendX":265,"legendY":-7,"labelFontSize":11.5,"symbolSize":55,"labelOffset":10,"rowPadding":0.3}},
    "shape":{"field":"t","type":"nominal","scale":{"domain":["297.15 K","303.15 K","310.15 K"],"range":["square","circle","triangle-up"]},"legend":{"title":null,"orient":"none","legendX":265,"legendY":-7,"labelFontSize":11.5,"symbolSize":55,"labelOffset":10,"rowPadding":0.3}}
   }}
 ]
},
{
 "width":255,"height":198,
 "data":{"name":"dE"},
 "title":{"text":"(E)","orient":"bottom","anchor":"middle","frame":"group","dx":7.5,"offset":10},
 "layer":[
  {"transform":[{"regression":"y","on":"x","groupby":["t"]}],
   "mark":{"type":"line","strokeWidth":2},
   "encoding":{
    "x":{"field":"x","type":"quantitative","scale":{"domain":[0,70],"nice":false,"zero":false},
     "axis":{"title":"concentration of NU (×10⁻⁵mol/L)","format":"d","tickCount":60,"labelOverlap":false,"values":[0,5,10,15,20,25,30,35,40,45,50,55,60,65,70],"labelExpr":"datum.value % 10 ? '' : datum.label","tickSize":{"condition":{"test":"datum.value % 10 != 0","value":3},"value":5},"titlePadding":7}},
    "y":{"field":"y","type":"quantitative","scale":{"domain":[0,3.5],"nice":false,"zero":false},
     "axis":{"title":"F₀ / F","titleY":92,"titleFontSize":17,"format":".1f","tickCount":60,"labelOverlap":false,"values":[0,0.25,0.5,0.75,1,1.25,1.5,1.75,2,2.25,2.5,2.75,3,3.25,3.5],"labelExpr":"(datum.value*4) % 2 ? '' : datum.label","tickSize":{"condition":{"test":"(datum.value*4) % 2 != 0","value":3},"value":5},"titlePadding":6}},
    "color":{"field":"t","type":"nominal","scale":{"domain":["297.15 K","303.15 K","310.15 K"],"range":["#3a3a3a","#f03a3a","#1a6edc"]}}
   }},
  {"mark":{"type":"point","filled":true,"size":55,"opacity":1},
   "encoding":{
    "x":{"field":"x","type":"quantitative"},
    "y":{"field":"y","type":"quantitative"},
    "color":{"field":"t","type":"nominal","legend":{"title":null,"orient":"none","legendX":266,"legendY":-2,"labelFontSize":11.5,"symbolSize":55,"labelOffset":14,"rowPadding":0.3}},
    "shape":{"field":"t","type":"nominal","scale":{"domain":["297.15 K","303.15 K","310.15 K"],"range":["square","circle","triangle-up"]},"legend":{"title":null,"orient":"none","legendX":266,"legendY":-2,"labelFontSize":11.5,"symbolSize":55,"labelOffset":14,"rowPadding":0.3}}
   }}
 ]
},
{
 "width":250,"height":197,
 "data":{"name":"dF"},
 "title":{"text":"(F)","orient":"bottom","anchor":"middle","frame":"group","dx":3,"offset":8},
 "layer":[
  {"transform":[{"regression":"y","on":"x","groupby":["t"]}],
   "mark":{"type":"line","strokeWidth":2},
   "encoding":{
    "x":{"field":"x","type":"quantitative","scale":{"domain":[-4,-3],"nice":false,"zero":false},
     "axis":{"title":"lg (concentration of NU)","format":".1f","tickCount":60,"labelOverlap":false,"values":[-4,-3.9,-3.8,-3.7,-3.6,-3.5,-3.4,-3.3,-3.2,-3.1,-3],"labelExpr":"round(datum.value*10) % 2 ? '' : replace(datum.label, '−', '-')","tickSize":{"condition":{"test":"round(datum.value*10) % 2 != 0","value":3},"value":5},"titlePadding":1}},
    "y":{"field":"y","type":"quantitative","scale":{"domain":[-1,0.4],"nice":false,"zero":false},
     "axis":{"title":"lg [(F₀-F)/F]","format":".1f","tickCount":60,"labelOverlap":false,"values":[-1,-0.9,-0.8,-0.7,-0.6,-0.5,-0.4,-0.3,-0.2,-0.1,0,0.1,0.2,0.3,0.4],"labelExpr":"round(datum.value*10) % 2 ? '' : replace(datum.label, '−', '-')","tickSize":{"condition":{"test":"round(datum.value*10) % 2 != 0","value":3},"value":5},"titlePadding":6}},
    "color":{"field":"t","type":"nominal","scale":{"domain":["297.15 K","303.15 K","310.15 K"],"range":["#3a3a3a","#f03a3a","#1a6edc"]}}
   }},
  {"mark":{"type":"point","filled":true,"size":55,"opacity":1},
   "encoding":{
    "x":{"field":"x","type":"quantitative"},
    "y":{"field":"y","type":"quantitative"},
    "color":{"field":"t","type":"nominal","legend":{"title":null,"orient":"none","legendX":265,"legendY":-2,"labelFontSize":11.5,"symbolSize":55,"labelOffset":10,"rowPadding":0.3}},
    "shape":{"field":"t","type":"nominal","scale":{"domain":["297.15 K","303.15 K","310.15 K"],"range":["square","circle","triangle-up"]},"legend":{"title":null,"orient":"none","legendX":265,"legendY":-2,"labelFontSize":11.5,"symbolSize":55,"labelOffset":10,"rowPadding":0.3}}
   }}
 ]
}
]
}
